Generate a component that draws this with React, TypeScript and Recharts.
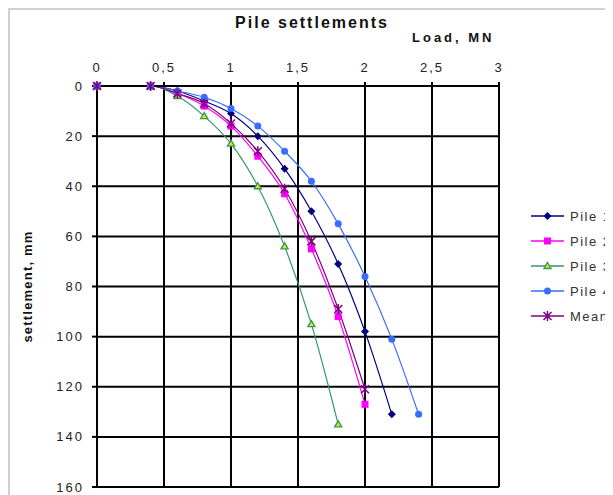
import React from "react";
import {
  LineChart,
  Line,
  XAxis,
  YAxis,
  CartesianGrid,
  Legend,
} from "recharts";

// load steps, MN
const loads = [0, 0.4, 0.6, 0.8, 1.0, 1.2, 1.4, 1.6, 1.8, 2.0, 2.2, 2.4];

// settlements, mm
const pile1 = [0, 0, 2, 6, 11, 20, 33, 50, 71, 98, 131];
const pile2 = [0, 0, 3, 8, 16, 28, 43, 65, 92, 127];
const pile3 = [0, 0, 4, 12, 23, 40, 64, 95, 135];
const pile4 = [0, 0, 2, 4.5, 9, 16, 26, 38, 55, 76, 101, 131];
const mean = [0, 0, 3, 7, 15, 26, 41, 62, 89, 121];

const xTicks = [0, 0.5, 1, 1.5, 2, 2.5, 3];
const yTicks = [0, 20, 40, 60, 80, 100, 120, 140, 160];

const series = [
  { key: "p1", name: "Pile 1", values: pile1, color: "#000080", shape: "diamond" },
  { key: "p2", name: "Pile 2", values: pile2, color: "#ff00ff", shape: "square" },
  { key: "p3", name: "Pile 3", values: pile3, color: "#339966", shape: "triangle" },
  { key: "p4", name: "Pile 4", values: pile4, color: "#3a6cff", shape: "circle" },
  { key: "mean", name: "Mean", values: mean, color: "#800080", shape: "star" },
];

const rows = loads.map((load, i) => {
  const row: Record<string, number | undefined> = { load };
  series.forEach((s) => {
    row[s.key] = s.values[i];
  });
  return row;
});

function Marker({ cx, cy, shape, color }: any) {
  if (cx == null || cy == null || isNaN(cy)) return <g />;
  switch (shape) {
    case "diamond":
      return <path d={`M${cx},${cy - 4}L${cx + 4},${cy}L${cx},${cy + 4}L${cx - 4},${cy}Z`} fill={color} />;
    case "square":
      return <rect x={cx - 3.5} y={cy - 3.5} width={7} height={7} fill={color} />;
    case "triangle":
      return (
        <path
          d={`M${cx},${cy - 3.5}L${cx + 3.5},${cy + 2.5}L${cx - 3.5},${cy + 2.5}Z`}
          fill="#e8e800"
          stroke={color}
          strokeWidth={1.4}
        />
      );
    case "circle":
      return <circle cx={cx} cy={cy} r={3.5} fill={color} />;
    default:
      return (
        <path
          d={`M${cx - 4},${cy - 4}L${cx + 4},${cy + 4}M${cx + 4},${cy - 4}L${cx - 4},${cy + 4}M${cx},${cy - 5}L${cx},${cy + 5}`}
          stroke={color}
          strokeWidth={1.5}
          fill="none"
        />
      );
  }
}

function LegendBox() {
  return (
    <svg width={100} height={130} style={{ overflow: "visible" }}>
      {series.map((s, i) => {
        const y = 12 + i * 25;
        return (
          <g key={s.key}>
            <line x1={5} x2={38} y1={y} y2={y} stroke={s.color} strokeWidth={1.5} />
            <Marker cx={21.5} cy={y} shape={s.shape} color={s.color} />
            <text x={44} y={y + 5} fontSize={13} fill="#333" style={{ letterSpacing: 1.5 }}>
              {s.name}
            </text>
          </g>
        );
      })}
    </svg>
  );
}

export default function App() {
  return (
    <div
      style={{
        position: "relative",
        width: 640,
        height: 520,
        borderTop: "2px solid #d0d0d0",
        borderLeft: "2px solid #d0d0d0",
        fontFamily: "'Liberation Sans', Arial, sans-serif",
        overflow: "hidden",
      }}
    >
      <style>{`.recharts-cartesian-axis-tick-value { letter-spacing: 2px; }`}</style>
      <div
        style={{
          position: "absolute",
          left: 0,
          width: 604,
          top: 5,
          textAlign: "center",
          fontSize: 16,
          lineHeight: "16px",
          fontWeight: "bold",
          letterSpacing: 2,
          color: "#111",
        }}
      >
        Pile settlements
      </div>
      <div
        style={{
          position: "absolute",
          left: 402,
          top: 21,
          fontSize: 13,
          lineHeight: "13px",
          fontWeight: "bold",
          letterSpacing: 3,
          color: "#111",
        }}
      >
        Load, MN
      </div>
      <LineChart width={603} height={485} data={rows} margin={{ top: 46, right: 114, bottom: 8, left: 0 }}>
        <CartesianGrid stroke="#000" strokeWidth={2} />
        <XAxis
          dataKey="load"
          type="number"
          orientation="top"
          domain={[0, 3]}
          ticks={xTicks}
          height={30}
          tickSize={4}
          tickMargin={10}
          tickFormatter={(v) => String(v).replace(".", ",")}
          tick={{ fill: "#222", fontSize: 13 }}
          axisLine={{ stroke: "#000", strokeWidth: 2 }}
          tickLine={{ stroke: "#000", strokeWidth: 2 }}
        />
        <YAxis
          type="number"
          reversed
          domain={[0, 160]}
          ticks={yTicks}
          width={87}
          tickSize={5}
          tickMargin={8}
          tick={{ fill: "#222", fontSize: 13 }}
          axisLine={{ stroke: "#000", strokeWidth: 2 }}
          tickLine={{ stroke: "#000", strokeWidth: 2 }}
          label={{
            value: "settlement, mm",
            angle: -90,
            position: "insideLeft",
            offset: 17,
            style: { textAnchor: "middle", fontSize: 13, fontWeight: "bold", fill: "#111", letterSpacing: 1.2 },
          }}
        />
        <Legend
          layout="vertical"
          align="center"
          verticalAlign="middle"
          content={() => <LegendBox />}
          wrapperStyle={{ left: 516, top: 194, width: 100, height: 130 }}
        />
        {series.map((s) => (
          <Line
            key={s.key}
            dataKey={s.key}
            name={s.name}
            type="monotone"
            stroke={s.color}
            strokeWidth={1.2}
            isAnimationActive={false}
            dot={(p: any) => <Marker key={`${s.key}-${p.index}`} cx={p.cx} cy={p.cy} shape={s.shape} color={s.color} />}
            activeDot={false}
          />
        ))}
      </LineChart>
    </div>
  );
}
